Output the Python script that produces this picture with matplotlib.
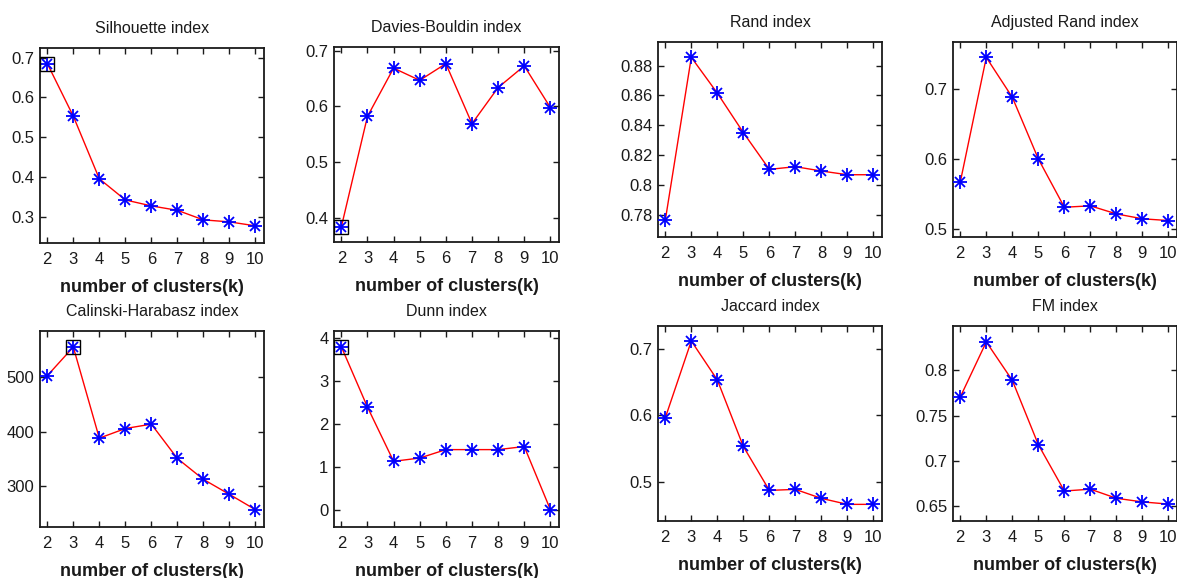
import matplotlib
matplotlib.use("Agg")
import matplotlib.pyplot as plt
from matplotlib.ticker import FuncFormatter

plt.rcParams['font.family'] = ['Liberation Sans', 'DejaVu Sans']

# number of clusters
k = [2, 3, 4, 5, 6, 7, 8, 9, 10]

# internal indices
silhouette = [0.685, 0.553, 0.396, 0.343, 0.328, 0.317, 0.293, 0.288, 0.278]
davies_bouldin = [0.383, 0.582, 0.669, 0.647, 0.677, 0.569, 0.634, 0.673, 0.598]
calinski = [502.4, 555.0, 387.8, 405.5, 413.5, 350.5, 312.2, 284.7, 256.6]
dunn = [3.79, 2.386, 1.124, 1.20, 1.396, 1.396, 1.396, 1.468, 0.0]

# external indices
rand = [0.7762, 0.8856, 0.8616, 0.8351, 0.8104, 0.8122, 0.8093, 0.8068, 0.8068]
adj_rand = [0.567, 0.745, 0.688, 0.600, 0.531, 0.533, 0.5215, 0.5145, 0.512]
jaccard = [0.596, 0.7115, 0.653, 0.553, 0.487, 0.4885, 0.475, 0.466, 0.466]
fm = [0.7704, 0.831, 0.7887, 0.718, 0.667, 0.669, 0.659, 0.655, 0.6526]

# y axis ticks per panel
silhouette_ticks = [0.3, 0.4, 0.5, 0.6, 0.7]
db_ticks = [0.4, 0.5, 0.6, 0.7]
ch_ticks = [300, 400, 500]
dunn_ticks = [0, 1, 2, 3, 4]
rand_ticks = [0.78, 0.8, 0.82, 0.84, 0.86, 0.88]
adj_rand_ticks = [0.5, 0.6, 0.7]
jaccard_ticks = [0.5, 0.6, 0.7]
fm_ticks = [0.65, 0.7, 0.75, 0.8]

W, H = 1177, 578
fig = plt.figure(figsize=(W / 100, H / 100), dpi=100)
fig.patch.set_facecolor('white')


def px_axes(left, top, width, height):
    return fig.add_axes([left / W, (H - top - height) / H, width / W, height / H])


# (title, values, yticks, ylim, best index or None, pixel box)
panels = [
    ('Silhouette index', silhouette, silhouette_ticks, (0.235, 0.724), 0, (40, 48, 224, 195)),
    ('Davies-Bouldin index', davies_bouldin, db_ticks, (0.356, 0.707), 0, (334, 47, 225, 195)),
    ('Calinski-Harabasz index', calinski, ch_ticks, (224.8, 584.4), 1, (40, 331, 224, 196)),
    ('Dunn index', dunn, dunn_ticks, (-0.404, 4.155), 0, (334, 331, 225, 196)),
    ('Rand index', rand, rand_ticks, (0.765, 0.8959), None, (658, 42, 224, 195)),
    ('Adjusted Rand index', adj_rand, adj_rand_ticks, (0.4885, 0.767), None, (953, 42, 224, 195)),
    ('Jaccard index', jaccard, jaccard_ticks, (0.441, 0.734), None, (658, 326, 224, 195)),
    ('FM index', fm, fm_ticks, (0.634, 0.8485), None, (953, 326, 224, 195)),
]

fmt = FuncFormatter(lambda v, p: f'{v:g}')

for title, vals, yticks, ylim, best, box in panels:
    ax = px_axes(*box)
    ax.plot(k, vals, color='red', lw=1.0, zorder=2)
    ax.plot(k, vals, ls='none', marker='+', ms=10, mew=1.3, color='blue', zorder=3)
    ax.plot(k, vals, ls='none', marker='x', ms=7.2, mew=1.3, color='blue', zorder=3)
    if best is not None:
        ax.plot(k[best], vals[best], ls='none', marker='s', ms=10.5, mfc='none',
                mec='black', mew=1.0, zorder=4)
    ax.set_xlim(1.72, 10.33)
    ax.set_ylim(*ylim)
    ax.set_xticks(k)
    ax.set_yticks(yticks)
    ax.yaxis.set_major_formatter(fmt)
    ax.tick_params(direction='in', top=True, right=True, length=4, width=1.0,
                   labelsize=12, colors='#1a1a1a')
    ax.tick_params(axis='x', pad=6.5)
    ax.tick_params(axis='y', pad=4)
    for s in ax.spines.values():
        s.set_linewidth(1.3)
        s.set_color('#1a1a1a')
    ax.set_title(title, fontsize=11.5, pad=11, color='#1a1a1a')
    ax.set_xlabel('number of clusters(k)', fontsize=13, fontweight='bold',
                  labelpad=8.5, color='#1a1a1a')

fig.savefig('out.png', dpi=100)
